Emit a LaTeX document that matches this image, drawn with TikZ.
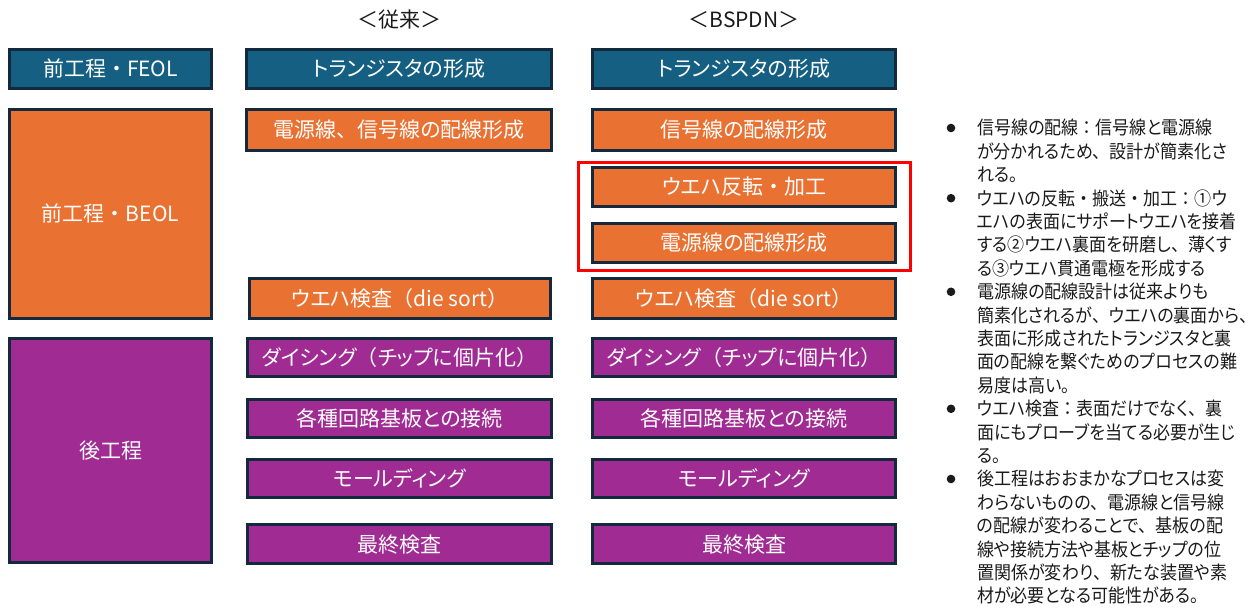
\documentclass[tikz,border=0pt]{standalone}
\usepackage{fontspec}
\setmainfont{Noto Sans CJK JP}[RawFeature=+palt]
\newfontfamily\fwfont{Noto Sans CJK JP}
\newfontfamily\notejp{Noto Sans CJK JP}[RawFeature=+palt, FakeStretch=0.92]
\newfontfamily\notefw{Noto Sans CJK JP}[FakeStretch=0.92]
\let\fwsel\fwfont
\newcommand\fw[1]{{\fwsel #1}}
\definecolor{cTeal}{HTML}{156082}
\definecolor{cOrange}{HTML}{E97132}
\definecolor{cPurple}{HTML}{A02B93}
\definecolor{cEdge}{HTML}{13293D}
\definecolor{cRed}{HTML}{FF0000}
\definecolor{cText}{HTML}{1A1A1A}
\newcommand\boxfont{\fontsize{21}{25}\selectfont}
\newcommand\notefont{\notejp\fontsize{18.5}{23.4}\selectfont\let\fwsel\notefw}
\tikzset{
  pbox/.style n args={2}{draw=cEdge, line width=2.6pt, inner sep=0pt,
    minimum width=#1pt, minimum height=#2pt, text=white, font=\boxfont,
    text height=18.5pt, text depth=2.5pt},
  hdr/.style={inner sep=0pt, text=cText, font=\boxfont, text height=18.5pt, text depth=2.5pt},
  redframe/.style={draw=cRed, line width=3pt, inner sep=0pt, minimum width=332pt, minimum height=108pt},
  bul/.style={fill=cText}
}
\begin{document}
\begin{tikzpicture}[x=1pt,y=-1pt]
\useasboundingbox (0,0) rectangle (1255,609);
% headers
\node[hdr] (h1) at (399,20) {\fw{＜}従来\fw{＞}};
\node[hdr] (h2) at (744,20) {\fw{＜}BSPDN\fw{＞}};
% left column
\node[pbox={202.4}{39.4}, fill=cTeal] (feol) at (110.5,69) {前工程\fw{・}FEOL};
\node[pbox={202.4}{209.4}, fill=cOrange] (beol) at (110.5,214) {前工程\fw{・}BEOL};
\node[pbox={202.4}{224.4}, fill=cPurple] (bk) at (110.5,450.5) {後工程};
% conventional column
\node[pbox={305.4}{39.4}, fill=cTeal] (c1) at (399,69) {トランジスタの形成};
\node[pbox={305.4}{41.4}, fill=cOrange] (c2) at (399,130) {電源線\fw{、}信号線の配線形成};
\node[pbox={301.4}{40.4}, fill=cOrange] (c5) at (400,298.5) {ウエハ検査\fw{（}die sort\fw{）}};
\node[pbox={304.4}{38.4}, fill=cPurple] (c6) at (399.5,357.5) {ダイシング\fw{（}チップに個片化\fw{）}};
\node[pbox={304.4}{38.4}, fill=cPurple] (c7) at (399.5,418.5) {各種回路基板との接続};
\node[pbox={304.4}{38.4}, fill=cPurple] (c8) at (399.5,478.5) {モールディング};
\node[pbox={304.4}{39.4}, fill=cPurple] (c9) at (399.5,544) {最終検査};
% BSPDN column
\node[pbox={303.4}{39.4}, fill=cTeal] (b1) at (744,69) {トランジスタの形成};
\node[pbox={303.4}{41.4}, fill=cOrange] (b2) at (744,130) {信号線の配線形成};
\node[pbox={303.4}{39.4}, fill=cOrange] (b3) at (744,187) {ウエハ反転\fw{・}加工};
\node[pbox={303.4}{39.4}, fill=cOrange] (b4) at (744,243) {電源線の配線形成};
\node[pbox={303.4}{40.4}, fill=cOrange] (b5) at (744,298.5) {ウエハ検査\fw{（}die sort\fw{）}};
\node[pbox={303.4}{38.4}, fill=cPurple] (b6) at (744,357.5) {ダイシング\fw{（}チップに個片化\fw{）}};
\node[pbox={303.4}{38.4}, fill=cPurple] (b7) at (744,418.5) {各種回路基板との接続};
\node[pbox={303.4}{38.4}, fill=cPurple] (b8) at (744,478.5) {モールディング};
\node[pbox={303.4}{39.4}, fill=cPurple] (b9) at (744,544) {最終検査};
% red highlight frame
\node[redframe] (hl) at (744.5,216.5) {};
% notes
\foreach \k in {0,3,7,12,15} {
  \fill[bul] (951,{128+23.4*\k}) circle (4.3pt);
}
\node[anchor=base west, inner sep=0pt, text=cText, font=\notefont] (notes) at (977,135) {%
\begin{tabular}[t]{@{}l@{}}
信号線の配線\fw{：}信号線と電源線\\
が分かれるため\fw{、}設計が簡素化さ\\
れる\fw{。}\\
ウエハの反転\fw{・}搬送\fw{・}加工\fw{：}①ウ\\
エハの表面にサポートウエハを接着\\
する②ウエハ裏面を研磨し\fw{、}薄くす\\
る③ウエハ貫通電極を形成する\\
電源線の配線設計は従来よりも\\
簡素化されるが\fw{、}ウエハの裏面から\fw{、}\\
表面に形成されたトランジスタと裏\\
面の配線を繋ぐためのプロセスの難\\
易度は高い\fw{。}\\
ウエハ検査\fw{：}表面だけでなく\fw{、}裏\\
面にもプローブを当てる必要が生じ\\
る\fw{。}\\
後工程はおおまかなプロセスは変\\
わらないものの\fw{、}電源線と信号線\\
の配線が変わることで\fw{、}基板の配\\
線や接続方法や基板とチップの位\\
置関係が変わり\fw{、}新たな装置や素\\
材が必要となる可能性がある\fw{。}
\end{tabular}};
\end{tikzpicture}
\end{document}
